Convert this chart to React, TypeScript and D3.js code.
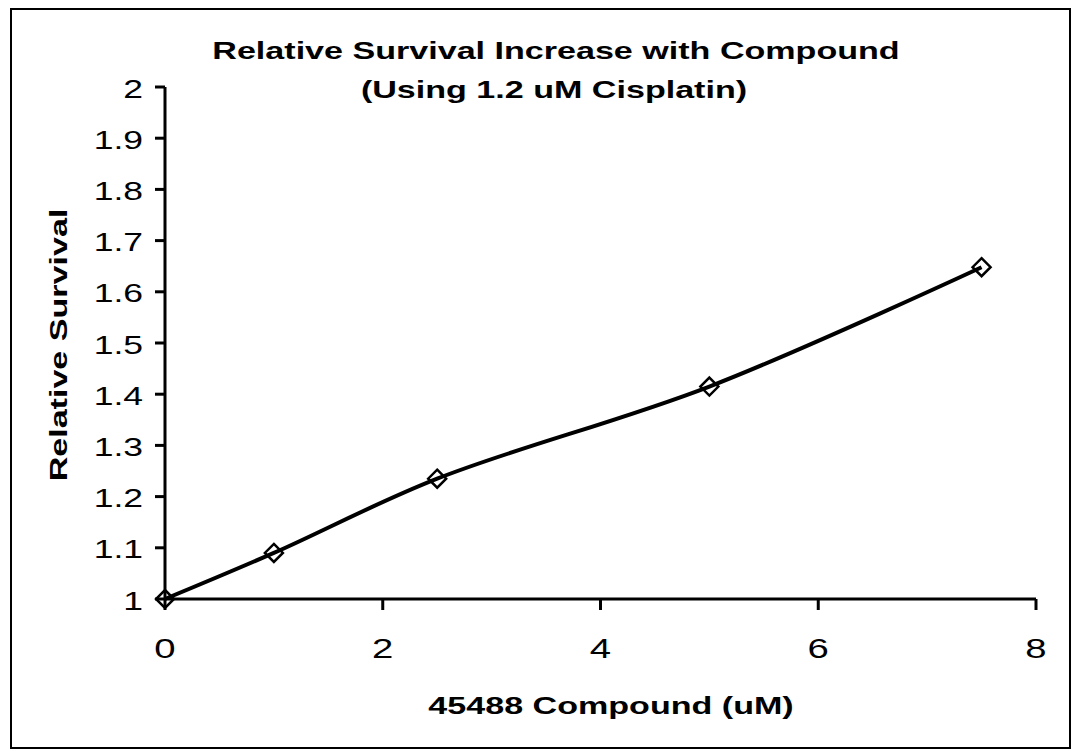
import React from 'react';
import * as d3 from 'd3';

const WIDTH = 1075;
const HEIGHT = 751;
const MARGIN = { top: 87, right: 39, bottom: 152, left: 165 };

const doses = [0, 1, 2.5, 5, 7.5];
const survival = [1, 1.09, 1.235, 1.415, 1.648];
const xTicks = [0, 2, 4, 6, 8];
const yTicks = [1, 1.1, 1.2, 1.3, 1.4, 1.5, 1.6, 1.7, 1.8, 1.9, 2];

const FONT = 'Liberation Sans, Arial, sans-serif';
// the original font is a wide Arial, so the text is stretched along its run
const STRETCH = 1.42;

type LabelProps = {
  x: number;
  y: number;
  size: number;
  anchor?: 'start' | 'middle' | 'end';
  bold?: boolean;
  rotate?: number;
  dy?: string;
  children: React.ReactNode;
};

const Label = ({ x, y, size, anchor = 'middle', bold, rotate = 0, dy, children }: LabelProps) => (
  <text
    transform={`translate(${x},${y}) rotate(${rotate}) scale(${STRETCH},1)`}
    textAnchor={anchor}
    fontFamily={FONT}
    fontWeight={bold ? 'bold' : 'normal'}
    fontSize={size}
    dy={dy}
  >
    {children}
  </text>
);

export default function App() {
  const boundsWidth = WIDTH - MARGIN.left - MARGIN.right;
  const boundsHeight = HEIGHT - MARGIN.top - MARGIN.bottom;

  const xScale = d3.scaleLinear().domain([0, 8]).range([0, boundsWidth]);
  const yScale = d3.scaleLinear().domain([1, 2]).range([boundsHeight, 0]);

  const points = doses.map((d, i) => [d, survival[i]] as [number, number]);
  const line = d3
    .line<[number, number]>()
    .x((d) => xScale(d[0]))
    .y((d) => yScale(d[1]))
    .curve(d3.curveCatmullRom.alpha(0.5));

  const diamond = (cx: number, cy: number) => {
    const r = 9;
    return `M${cx},${cy - r}L${cx + r},${cy}L${cx},${cy + r}L${cx - r},${cy}Z`;
  };

  return (
    <svg width={WIDTH} height={HEIGHT} style={{ position: 'absolute', left: 0, top: 0, background: '#fff' }}>
      <rect x={11} y={9} width={1059} height={739} fill="#fff" stroke="#000" strokeWidth={2} />
      <Label x={556} y={59} size={24} bold>
        Relative Survival Increase with Compound
      </Label>
      <Label x={554} y={98} size={24} bold>
        (Using 1.2 uM Cisplatin)
      </Label>
      <Label x={67} y={345} size={24} bold rotate={-90}>
        Relative Survival
      </Label>
      <Label x={611} y={714} size={24} bold>
        45488 Compound (uM)
      </Label>
      <g transform={`translate(${MARGIN.left},${MARGIN.top})`}>
        {yTicks.map((t) => (
          <g key={t}>
            <line x1={-10} x2={0} y1={yScale(t)} y2={yScale(t)} stroke="#000" strokeWidth={3} />
            <Label x={-22} y={yScale(t)} dy="0.42em" size={25} anchor="end">
              {t}
            </Label>
          </g>
        ))}
        {xTicks.map((t) => (
          <g key={t}>
            <line x1={xScale(t)} x2={xScale(t)} y1={boundsHeight} y2={boundsHeight + 11} stroke="#000" strokeWidth={3} />
            <Label x={xScale(t)} y={boundsHeight + 59} size={27}>
              {t}
            </Label>
          </g>
        ))}
        <line x1={0} x2={0} y1={0} y2={boundsHeight} stroke="#000" strokeWidth={3} />
        <line x1={0} x2={boundsWidth} y1={boundsHeight} y2={boundsHeight} stroke="#000" strokeWidth={3} />
        <path d={line(points) || ''} fill="none" stroke="#000" strokeWidth={4} />
        {points.map((p, i) => (
          <path key={i} d={diamond(xScale(p[0]), yScale(p[1]))} fill="none" stroke="#000" strokeWidth={2.5} />
        ))}
      </g>
    </svg>
  );
}
